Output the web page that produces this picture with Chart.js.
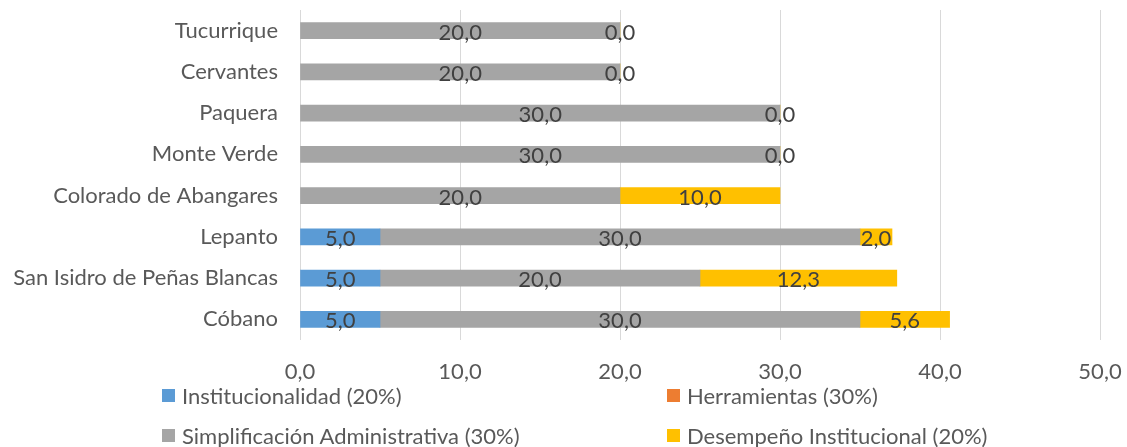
<!DOCTYPE html>
<html>
<head>
<meta charset="utf-8">
<script src="https://cdn.jsdelivr.net/npm/chart.js@4.4.1/dist/chart.umd.min.js"></script>
<style>
  html, body { margin: 0; padding: 0; background: #fff; overflow: hidden; }
  #wrap { position: relative; width: 1127px; height: 447px; overflow: hidden; }
  #c { display: block; }
  #legend { position: absolute; left: 0; top: 0; width: 1127px; height: 447px; pointer-events: none;
    font-family: Lato, "Open Sans", sans-serif; font-size: 22px; color: #595959; }
  .item { position: absolute; display: flex; align-items: center; white-space: nowrap; height: 26px; }
  .box { width: 13px; height: 13px; margin-right: 7px; }
</style>
</head>
<body>
<div id="wrap">
  <canvas id="c"></canvas>
  <div id="legend"></div>
</div>
<script>
const categories = ["Tucurrique", "Cervantes", "Paquera", "Monte Verde", "Colorado de Abangares",
  "Lepanto", "San Isidro de Peñas Blancas", "Cóbano"];
const institucionalidad = [null, null, null, null, null, 5.0, 5.0, 5.0];
const herramientas = [null, null, null, null, null, null, null, null];
const simplificacion = [20.0, 20.0, 30.0, 30.0, 20.0, 30.0, 20.0, 30.0];
const desempeno = [0.0, 0.0, 0.0, 0.0, 10.0, 2.0, 12.3, 5.6];
const xTicks = [0, 10, 20, 30, 40, 50];

const seriesNames = ["Institucionalidad (20%)", "Herramientas (30%)",
  "Simplificación Administrativa (30%)", "Desempeño Institucional (20%)"];
const seriesColors = ["#5B9BD5", "#ED7D31", "#A5A5A5", "#FFC000"];
const seriesData = [institucionalidad, herramientas, simplificacion, desempeno];

const FONT = "Lato, 'Open Sans', sans-serif";
const fmt = v => Number(v).toFixed(1).replace(".", ",");

// draws the value of each segment in its middle, like excel data labels
const barLabels = {
  id: "barLabels",
  afterDatasetsDraw(chart) {
    const ctx = chart.ctx;
    ctx.save();
    ctx.font = "22px " + FONT;
    ctx.fillStyle = "#404040";
    ctx.textAlign = "center";
    ctx.textBaseline = "middle";
    chart.data.datasets.forEach((ds, i) => {
      const meta = chart.getDatasetMeta(i);
      meta.data.forEach((el, j) => {
        const v = ds.data[j];
        if (v == null) return;
        ctx.fillText(fmt(v), (el.x + el.base) / 2, el.y + 2);
      });
    });
    ctx.restore();
  }
};

const datasets = seriesNames.map((name, i) => ({
  label: name,
  data: seriesData[i],
  backgroundColor: seriesColors[i],
  borderWidth: 0,
  barThickness: 16
}));

new Chart(document.getElementById("c"), {
  type: "bar",
  data: { labels: categories, datasets: datasets },
  options: {
    indexAxis: "y",
    responsive: true,
    maintainAspectRatio: false,
    animation: false,
    layout: { padding: { left: 0, right: 27, top: 10, bottom: 57 } },
    plugins: {
      legend: { display: false },
      tooltip: { enabled: false }
    },
    scales: {
      x: {
        stacked: true,
        min: 0,
        max: 50,
        afterBuildTicks: s => { s.ticks = xTicks.map(v => ({ value: v })); },
        afterFit: s => { s.height = 50; s.paddingLeft = 0; s.paddingRight = 0; },
        grid: { color: "#D9D9D9", lineWidth: 1, drawTicks: false },
        border: { display: false },
        ticks: {
          padding: 19,
          color: "#595959",
          font: { family: FONT, size: 22 },
          callback: v => fmt(v)
        }
      },
      y: {
        stacked: true,
        afterFit: s => { s.width = 300; s.paddingTop = 0; s.paddingBottom = 0; },
        grid: { display: false, drawTicks: false },
        border: { display: false },
        ticks: {
          padding: 22,
          color: "#595959",
          font: { family: FONT, size: 22 }
        }
      }
    }
  },
  plugins: [barLabels]
});

// legend in two rows of two, laid out as in the original
const legendPos = [[162, 382], [667, 382], [162, 422], [667, 422]];
const legend = document.getElementById("legend");
seriesNames.forEach((name, i) => {
  const item = document.createElement("div");
  item.className = "item";
  item.style.left = legendPos[i][0] + "px";
  item.style.top = legendPos[i][1] + "px";
  item.innerHTML = '<span class="box" style="background:' + seriesColors[i] + '"></span><span>' + name + '</span>';
  legend.appendChild(item);
});
</script>
</body>
</html>
